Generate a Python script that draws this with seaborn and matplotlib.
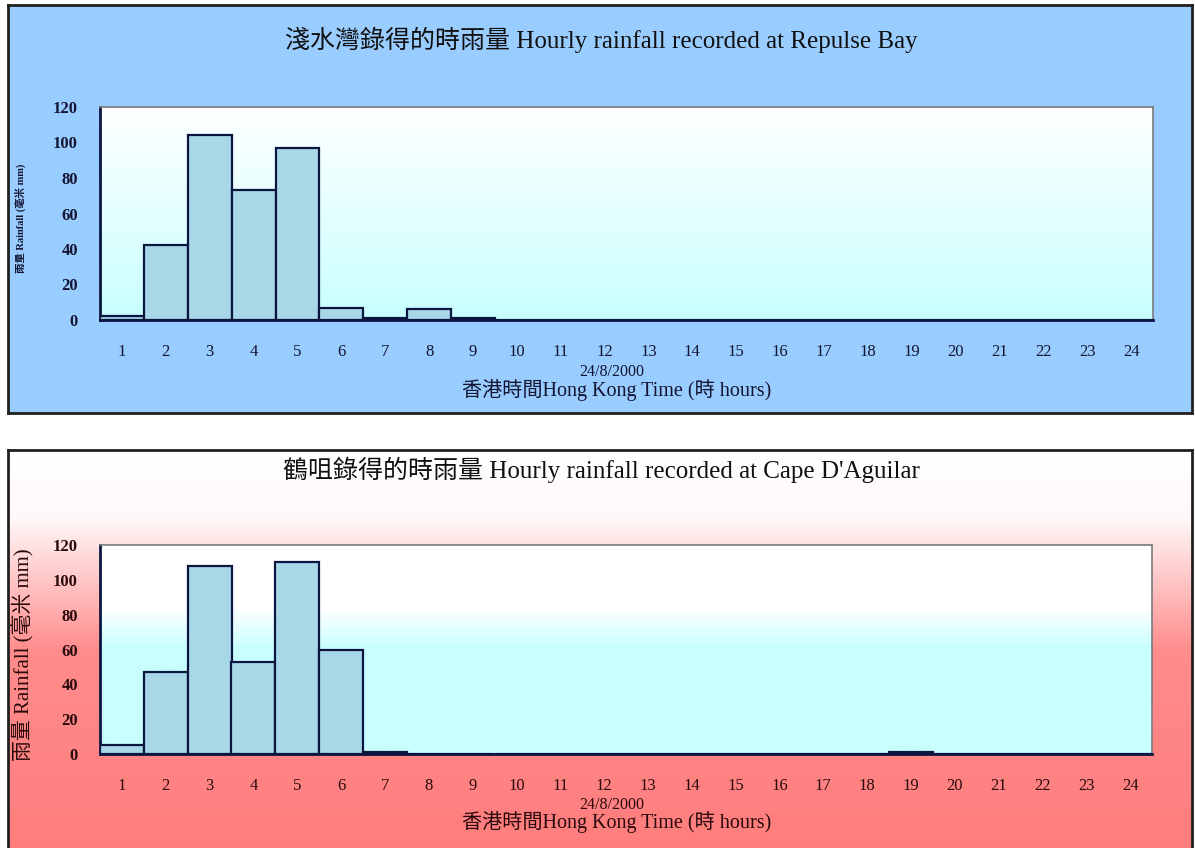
import numpy as np
import matplotlib
matplotlib.use("Agg")
import matplotlib.pyplot as plt
import seaborn as sns

# Hourly rainfall, 24/8/2000 (mm)
hours = [str(h) for h in range(1, 25)]
repulse_bay = [2, 42, 104, 73, 97, 7, 1, 6, 1, 0, 0, 0,
               0, 0, 0, 0, 0, 0, 0, 0, 0, 0, 0, 0]
cape_daguilar = [5, 47, 108, 53, 110, 60, 1, 0, 0, 0, 0, 0,
                 0, 0, 0, 0, 0, 0, 1, 0, 0, 0, 0, 0]
y_ticks = [0, 20, 40, 60, 80, 100, 120]

title_top = "淺水灣錄得的時雨量 Hourly rainfall recorded at Repulse Bay"
title_bottom = "鶴咀錄得的時雨量 Hourly rainfall recorded at Cape D'Aguilar"
date_text = "24/8/2000"
x_label = "香港時間Hong Kong Time (時 hours)"
y_label = "雨量 Rainfall (毫米 mm)"

sns.set_theme(style="white")
FONTS = ["Liberation Serif", "Noto Sans CJK TC", "DejaVu Sans"]
plt.rcParams["font.family"] = FONTS

W, H = 1195, 848
fig = plt.figure(figsize=(W / 100, H / 100), dpi=100)
fig.patch.set_facecolor("white")


def frac(x0, y0, x1, y1):
    """Pixel box (top-left origin) -> figure fraction rect."""
    return [x0 / W, 1 - y1 / H, (x1 - x0) / W, (y1 - y0) / H]


def vgrad(stops, n=400):
    """Vertical RGB gradient, top to bottom; stops = [(pos, (r,g,b)), ...]."""
    t = np.linspace(0, 1, n)
    out = np.zeros((n, 1, 3))
    pos = [s[0] for s in stops]
    for c in range(3):
        out[:, 0, c] = np.interp(t, pos, [s[1][c] / 255 for s in stops])
    return out


# ---- panel backgrounds ----
bg_top = fig.add_axes(frac(8, 5, 1192, 413), zorder=-10)
bg_top.set_facecolor("#99ccff")
bg_top.set_xticks([]); bg_top.set_yticks([])
for s in bg_top.spines.values():
    s.set_color("#202020"); s.set_linewidth(2)

bg_bot = fig.add_axes(frac(8, 450, 1192, 852), zorder=-10)
bg_bot.imshow(vgrad([(0, (255, 255, 255)), (0.17, (255, 248, 248)),
                     (0.5, (255, 140, 140)), (1, (255, 125, 125))]),
              aspect="auto", extent=(0, 1, 0, 1))
bg_bot.set_xlim(0, 1); bg_bot.set_ylim(0, 1)
bg_bot.set_xticks([]); bg_bot.set_yticks([])
for s in bg_bot.spines.values():
    s.set_color("#202020"); s.set_linewidth(2)


def draw_panel(box, values, title, title_y, tick_color, ylab_size, ylab_x,
               grad_stops, label_ys):
    ax = fig.add_axes(frac(*box))
    sns.barplot(x=hours, y=values, order=hours, ax=ax, width=1.0,
                color="#a8d8e8", saturation=1, edgecolor="#0b1540",
                linewidth=1.6, zorder=3)
    ax.imshow(vgrad(grad_stops), aspect="auto",
              extent=(-0.5, 23.5, 0, 120), zorder=0)
    ax.set_xlim(-0.5, 23.5)
    ax.set_ylim(0, 120)
    ax.set_facecolor("white")
    ax.set_xlabel(""); ax.set_ylabel("")

    ax.set_yticks(y_ticks)
    ax.set_yticklabels([str(v) for v in y_ticks], fontsize=12,
                       color=tick_color, fontweight="bold")
    ax.tick_params(axis="y", direction="in", length=6, width=1.3,
                   colors="#0b1540", labelcolor=tick_color, pad=16)
    ax.set_xticks(range(24))
    ax.set_xticklabels(hours, fontsize=12, color=tick_color)
    ax.tick_params(axis="x", which="major", length=0, pad=17,
                   labelcolor=tick_color)
    ax.set_xticks(np.arange(0.5, 23.5, 1), minor=True)
    ax.tick_params(axis="x", which="minor", direction="in", length=5,
                   width=1.3, colors="#0b1540")

    for side in ("left", "bottom"):
        ax.spines[side].set_color("#0b1540"); ax.spines[side].set_linewidth(2)
    for side in ("top", "right"):
        ax.spines[side].set_color("#7a7a7a"); ax.spines[side].set_linewidth(1.2)

    cx = (box[0] + box[2]) / 2 / W
    fig.text(0.503, 1 - title_y / H, title, fontsize=18, ha="center",
             va="center", color="#101010")
    fig.text(cx - 0.012, 1 - label_ys[0] / H, date_text, fontsize=11.5,
             ha="center", va="center", color=tick_color)
    fig.text(cx - 0.008, 1 - label_ys[1] / H, x_label, fontsize=14.5,
             ha="center", va="center", color=tick_color)
    fig.text(ylab_x / W, 1 - (box[1] + box[3]) / 2 / H - 0.006, y_label,
             fontsize=ylab_size, rotation=90, ha="center", va="center",
             color=tick_color, fontweight="bold" if ylab_size < 10 else "normal")
    return ax


draw_panel((100, 107, 1153, 320), repulse_bay, title_top, 40, "#141433", 7.5, 20,
           [(0, (255, 255, 255)), (1, (200, 255, 255))], (372, 390))
draw_panel((100, 545, 1152, 754), cape_daguilar, title_bottom, 470, "#2a0a0c",
           15, 22, [(0, (255, 255, 255)), (0.3, (255, 255, 255)),
                    (0.5, (200, 255, 255)), (1, (200, 255, 255))], (805, 822))

fig.savefig("out.png", dpi=100)
